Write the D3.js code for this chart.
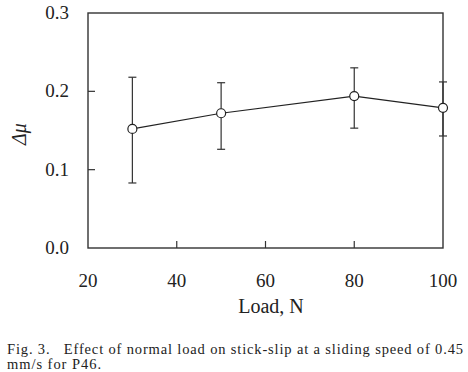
<!DOCTYPE html>
<html>
<head>
<meta charset="utf-8">
<script src="https://cdn.jsdelivr.net/npm/d3@7"></script>
<style>
  body { margin: 0; background: #fff; }
</style>
</head>
<body>
<svg id="chart" width="468" height="372"></svg>
<script>
// values
const loads = [30, 50, 80, 100];
const dmu = [0.152, 0.172, 0.194, 0.179];
const errHigh = [0.218, 0.211, 0.230, 0.212];
const errLow = [0.083, 0.126, 0.153, 0.143];
const xTicks = [20, 40, 60, 80, 100];
const yTicks = [0.0, 0.1, 0.2, 0.3];

const svg = d3.select("#chart");
const m = { left: 88, right: 443, top: 13, bottom: 248 };
const serif = "'Times New Roman', 'Liberation Serif', Times, serif";

const x = d3.scaleLinear().domain([20, 100]).range([m.left, m.right]);
const y = d3.scaleLinear().domain([0, 0.3]).range([m.bottom, m.top]);

const ink = "#222";

// frame
svg.append("rect")
    .attr("x", m.left).attr("y", m.top)
    .attr("width", m.right - m.left).attr("height", m.bottom - m.top)
    .attr("fill", "none").attr("stroke", "#333").attr("stroke-width", 1.4);

// inward ticks
svg.append("g").selectAll("line")
    .data(xTicks.slice(1, -1))
    .join("line")
    .attr("x1", d => x(d)).attr("x2", d => x(d))
    .attr("y1", m.bottom).attr("y2", m.bottom - 7)
    .attr("stroke", "#333").attr("stroke-width", 1.2);

svg.append("g").selectAll("line")
    .data(yTicks.slice(1, -1))
    .join("line")
    .attr("x1", m.left).attr("x2", m.left + 7)
    .attr("y1", d => y(d)).attr("y2", d => y(d))
    .attr("stroke", "#333").attr("stroke-width", 1.2);

// tick labels
svg.append("g").selectAll("text")
    .data(xTicks)
    .join("text")
    .attr("x", d => x(d)).attr("y", 287)
    .attr("text-anchor", "middle")
    .attr("font-family", serif)
    .attr("font-size", 19).attr("fill", ink)
    .text(d => d);

svg.append("g").selectAll("text")
    .data(yTicks)
    .join("text")
    .attr("x", 69).attr("y", d => y(d) + 6)
    .attr("text-anchor", "end")
    .attr("font-family", serif)
    .attr("font-size", 19).attr("fill", ink)
    .text(d => d.toFixed(1));

// axis titles
svg.append("text")
    .attr("x", 271).attr("y", 313)
    .attr("text-anchor", "middle")
    .attr("font-family", serif)
    .attr("font-size", 20).attr("fill", ink)
    .text("Load, N");

svg.append("text")
    .attr("transform", "translate(26,134) rotate(-90)")
    .attr("text-anchor", "middle")
    .attr("font-family", serif)
    .attr("font-size", 20).attr("font-style", "italic").attr("fill", ink)
    .text("Δμ");

// error bars
const pts = loads.map((d, i) => ({ x: d, y: dmu[i], hi: errHigh[i], lo: errLow[i] }));
const eb = svg.append("g").attr("stroke", "#333").attr("stroke-width", 1.2);
eb.selectAll(".v").data(pts).join("line")
    .attr("x1", d => x(d.x)).attr("x2", d => x(d.x))
    .attr("y1", d => y(d.hi)).attr("y2", d => y(d.lo));
eb.selectAll(".t").data(pts).join("line")
    .attr("x1", d => x(d.x) - 4).attr("x2", d => x(d.x) + 4)
    .attr("y1", d => y(d.hi)).attr("y2", d => y(d.hi));
eb.selectAll(".b").data(pts).join("line")
    .attr("x1", d => x(d.x) - 4).attr("x2", d => x(d.x) + 4)
    .attr("y1", d => y(d.lo)).attr("y2", d => y(d.lo));

// line + markers
svg.append("path")
    .datum(pts)
    .attr("fill", "none").attr("stroke", ink).attr("stroke-width", 1.2)
    .attr("d", d3.line().x(d => x(d.x)).y(d => y(d.y)));

svg.append("g").selectAll("circle")
    .data(pts)
    .join("circle")
    .attr("cx", d => x(d.x)).attr("cy", d => y(d.y)).attr("r", 4.5)
    .attr("fill", "#fff").attr("stroke", ink).attr("stroke-width", 1.2);

// caption
svg.append("text")
    .attr("x", 7).attr("y", 354)
    .attr("font-family", serif)
    .attr("font-size", 14.5).attr("fill", ink)
    .attr("textLength", 456).attr("lengthAdjust", "spacing")
    .attr("xml:space", "preserve")
    .text("Fig. 3.   Effect of normal load on stick-slip at a sliding speed of 0.45");
svg.append("text")
    .attr("x", 7).attr("y", 369)
    .attr("font-family", serif)
    .attr("font-size", 14.5).attr("fill", ink)
    .attr("textLength", 94).attr("lengthAdjust", "spacing")
    .text("mm/s for P46.");
</script>
</body>
</html>
